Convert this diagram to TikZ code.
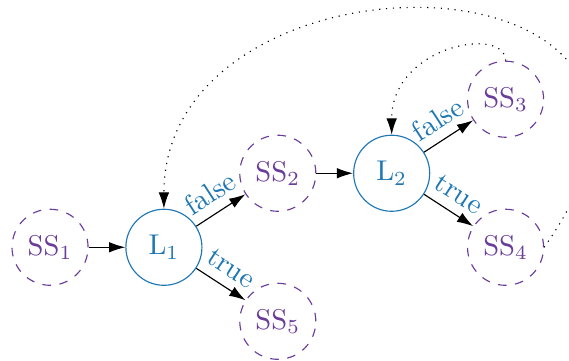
\documentclass[tikz,border=0pt]{standalone}
\usetikzlibrary{arrows.meta}

\definecolor{loopblue}{RGB}{31,119,180}
\definecolor{ssviolet}{RGB}{106,61,154}

\tikzset{
  ssnode/.style={circle, draw=ssviolet, dashed, text=ssviolet, minimum size=0.935cm, inner sep=0pt},
  loopnode/.style={circle, draw=loopblue, text=loopblue, minimum size=0.935cm, inner sep=0pt},
  flow/.style={-{Latex[length=2mm,width=1.3mm]}},
  back/.style={dotted, -{Latex[length=2mm,width=1.3mm]}},
  branch/.style={text=loopblue, sloped, midway, above}
}

\begin{document}
\begin{tikzpicture}[x=1.4cm, y=0.91cm]

  \useasboundingbox (-0.615cm, -1.39cm) rectangle (6.38cm, 3.04cm);

  % -- Nodes --
  \node[ssnode]   (ss1) at (0, 0) {SS$_1$};
  \node[loopnode] (l1)  at (1, 0) {L$_1$};
  \node[ssnode]   (ss2) at (2, 1) {SS$_2$};
  \node[ssnode]   (ss5) at (2, -1) {SS$_5$};
  \node[loopnode] (l2)  at (3, 1) {L$_2$};
  \node[ssnode]   (ss3) at (4, 2) {SS$_3$};
  \node[ssnode]   (ss4) at (4, 0) {SS$_4$};

  % -- Forward edges --
  \draw[flow] (ss1) -- (l1);
  \draw[flow] (l1) -- node[branch] {false} (ss2);
  \draw[flow] (l1) -- node[branch] {true} (ss5);
  \draw[flow] (ss2) -- (l2);
  \draw[flow] (l2) -- node[branch] {false} (ss3);
  \draw[flow] (l2) -- node[branch] {true} (ss4);

  % -- Back edges --
  \draw[back] (ss3.north) .. controls +(0, 0.43cm) and +(0, 1.1cm) .. (l2.north);
  \draw[back] (ss4.east) .. controls +(2.68cm, 3.78cm) and +(0, 3.37cm) .. (l1.north);

\end{tikzpicture}
\end{document}
